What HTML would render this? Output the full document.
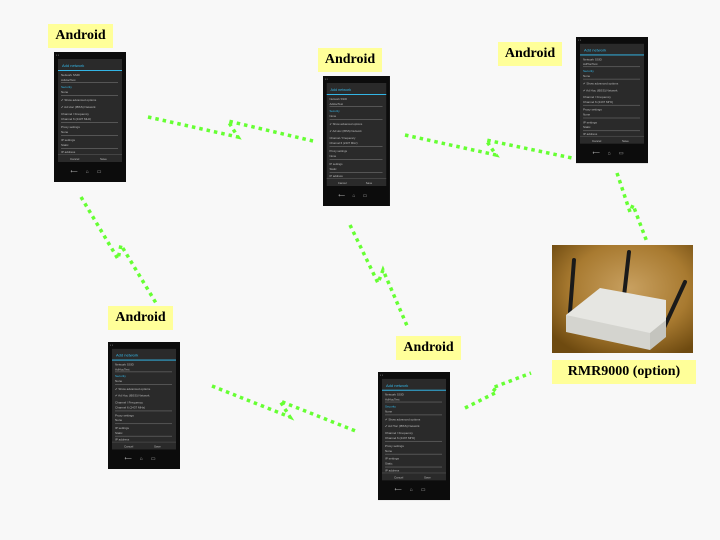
<!DOCTYPE html>
<html><head><meta charset="utf-8"><style>
body{margin:0;width:720px;height:540px;background:#f8f8f8;position:relative;overflow:hidden;font-family:"Liberation Sans",sans-serif}
.lbl{position:absolute;background:#ffff99;font-family:"Liberation Serif",serif;font-weight:bold;font-size:14px;color:#000;text-align:center;line-height:24px;height:24px}
.ph{position:absolute;width:72px;height:130px;background:#0c0c0c;transform-origin:0 0;overflow:hidden}
.ph .sb{position:absolute;left:2px;top:1px;font-size:3px;color:#999}
.ph .dl{position:absolute;left:4px;top:7px;width:64px;height:103px;background:#2a2a2a}
.ph .t{position:absolute;left:4px;top:4px;font-size:4px;color:#33b5e5}
.ph .hl{position:absolute;left:0;top:11px;width:64px;height:1px;background:#33b5e5}
.ph .r{position:absolute;left:3px;font-size:3px;color:#bbb;white-space:nowrap}
.ph .u{position:absolute;left:3px;width:57px;height:1px;background:#555}
.ph .bt{position:absolute;left:0;top:95px;width:64px;height:8px;border-top:1px solid #444;font-size:3px;color:#bbb}
.ph .nv{position:absolute;left:0;top:117px;width:72px;text-align:center;font-size:5px;color:#aaa;letter-spacing:8px}
</style></head><body>
<svg width="720" height="540" style="position:absolute;left:0;top:0">
<g fill="none" stroke="#66ff33" stroke-width="3.5" stroke-dasharray="3.5 4">
<polyline points="148,117 238,137 228,121 313,141"/>
<polyline points="405,135 496,155 486,140 572,158"/>
<polyline points="81,197 118,259 121,245 156,303"/>
<polyline points="350,225 378,283 383,270 408,328"/>
<polyline points="212,386 290,417 280,401 358,432"/>
<polyline points="465,408 497,392 492,388 531,373"/>
<polyline points="617,173 630,212 633,205 647,242"/>
</g>
<defs><radialGradient id="bg" cx="0.55" cy="0.4" r="0.7"><stop offset="0" stop-color="#c8a060"/><stop offset="0.6" stop-color="#a87a30"/><stop offset="1" stop-color="#6e4a10"/></radialGradient></defs>
<rect x="552" y="245" width="141" height="108" fill="url(#bg)"/>
<g stroke="#1a1a1a" stroke-width="4" stroke-linecap="round">
<line x1="574" y1="260" x2="570" y2="312"/><line x1="629" y1="252" x2="624" y2="296"/><line x1="685" y1="282" x2="662" y2="332"/></g>
<polygon points="566,315 600,288 666,300 666,330 650,343 566,325" fill="#e6e6e2"/>
<polygon points="566,315 650,333 650,350 566,332" fill="#d4d4cf"/>
<polygon points="650,333 666,320 666,337 650,350" fill="#c4c4be"/>
</svg>
<div class="lbl" style="left:48px;top:24px;width:65px">Android</div>
<div class="lbl" style="left:318px;top:48px;width:64px">Android</div>
<div class="lbl" style="left:498px;top:42px;width:64px">Android</div>
<div class="lbl" style="left:108px;top:306px;width:65px">Android</div>
<div class="lbl" style="left:396px;top:336px;width:65px">Android</div>
<div class="lbl" style="left:552px;top:360px;width:144px">RMR9000 (option)</div>

<div class="ph" style="left:54px;top:52px"><div class="sb">▪ ▪</div><div class="dl"><div class="t">Add network</div><div class="hl"></div><div class="r" style="top:14px">Network SSID</div><div class="r" style="top:19px">AdHocTest</div><div class="u" style="top:23px"></div><div class="r" style="top:26px;color:#33b5e5">Security</div><div class="r" style="top:31px">None</div><div class="u" style="top:36px"></div><div class="r" style="top:39px">✔ Show advanced options</div><div class="r" style="top:46px">✔ Ad Hoc (IBSS) Network</div><div class="r" style="top:53px">Channel / Frequency</div><div class="r" style="top:58px">Channel 6 (2437 MHz)</div><div class="u" style="top:63px"></div><div class="r" style="top:66px">Proxy settings</div><div class="r" style="top:71px">None</div><div class="u" style="top:76px"></div><div class="r" style="top:79px">IP settings</div><div class="r" style="top:84px">Static</div><div class="u" style="top:89px"></div><div class="r" style="top:91px">IP address</div><div class="bt"><span style="position:absolute;left:12px;top:2px">Cancel</span><span style="position:absolute;left:42px;top:2px">Save</span></div></div><div class="nv">⟵⌂▭</div></div>

<div class="ph" style="left:323px;top:76px;transform:scale(0.93,1)"><div class="sb">▪ ▪</div><div class="dl"><div class="t">Add network</div><div class="hl"></div><div class="r" style="top:14px">Network SSID</div><div class="r" style="top:19px">AdHocTest</div><div class="u" style="top:23px"></div><div class="r" style="top:26px;color:#33b5e5">Security</div><div class="r" style="top:31px">None</div><div class="u" style="top:36px"></div><div class="r" style="top:39px">✔ Show advanced options</div><div class="r" style="top:46px">✔ Ad Hoc (IBSS) Network</div><div class="r" style="top:53px">Channel / Frequency</div><div class="r" style="top:58px">Channel 6 (2437 MHz)</div><div class="u" style="top:63px"></div><div class="r" style="top:66px">Proxy settings</div><div class="r" style="top:71px">None</div><div class="u" style="top:76px"></div><div class="r" style="top:79px">IP settings</div><div class="r" style="top:84px">Static</div><div class="u" style="top:89px"></div><div class="r" style="top:91px">IP address</div><div class="bt"><span style="position:absolute;left:12px;top:2px">Cancel</span><span style="position:absolute;left:42px;top:2px">Save</span></div></div><div class="nv">⟵⌂▭</div></div>

<div class="ph" style="left:576px;top:37px;transform:scale(1,0.97)"><div class="sb">▪ ▪</div><div class="dl"><div class="t">Add network</div><div class="hl"></div><div class="r" style="top:14px">Network SSID</div><div class="r" style="top:19px">AdHocTest</div><div class="u" style="top:23px"></div><div class="r" style="top:26px;color:#33b5e5">Security</div><div class="r" style="top:31px">None</div><div class="u" style="top:36px"></div><div class="r" style="top:39px">✔ Show advanced options</div><div class="r" style="top:46px">✔ Ad Hoc (IBSS) Network</div><div class="r" style="top:53px">Channel / Frequency</div><div class="r" style="top:58px">Channel 6 (2437 MHz)</div><div class="u" style="top:63px"></div><div class="r" style="top:66px">Proxy settings</div><div class="r" style="top:71px">None</div><div class="u" style="top:76px"></div><div class="r" style="top:79px">IP settings</div><div class="r" style="top:84px">Static</div><div class="u" style="top:89px"></div><div class="r" style="top:91px">IP address</div><div class="bt"><span style="position:absolute;left:12px;top:2px">Cancel</span><span style="position:absolute;left:42px;top:2px">Save</span></div></div><div class="nv">⟵⌂▭</div></div>

<div class="ph" style="left:108px;top:342px;transform:scale(1,0.977)"><div class="sb">▪ ▪</div><div class="dl"><div class="t">Add network</div><div class="hl"></div><div class="r" style="top:14px">Network SSID</div><div class="r" style="top:19px">AdHocTest</div><div class="u" style="top:23px"></div><div class="r" style="top:26px;color:#33b5e5">Security</div><div class="r" style="top:31px">None</div><div class="u" style="top:36px"></div><div class="r" style="top:39px">✔ Show advanced options</div><div class="r" style="top:46px">✔ Ad Hoc (IBSS) Network</div><div class="r" style="top:53px">Channel / Frequency</div><div class="r" style="top:58px">Channel 6 (2437 MHz)</div><div class="u" style="top:63px"></div><div class="r" style="top:66px">Proxy settings</div><div class="r" style="top:71px">None</div><div class="u" style="top:76px"></div><div class="r" style="top:79px">IP settings</div><div class="r" style="top:84px">Static</div><div class="u" style="top:89px"></div><div class="r" style="top:91px">IP address</div><div class="bt"><span style="position:absolute;left:12px;top:2px">Cancel</span><span style="position:absolute;left:42px;top:2px">Save</span></div></div><div class="nv">⟵⌂▭</div></div>

<div class="ph" style="left:378px;top:372px;transform:scale(1,0.985)"><div class="sb">▪ ▪</div><div class="dl"><div class="t">Add network</div><div class="hl"></div><div class="r" style="top:14px">Network SSID</div><div class="r" style="top:19px">AdHocTest</div><div class="u" style="top:23px"></div><div class="r" style="top:26px;color:#33b5e5">Security</div><div class="r" style="top:31px">None</div><div class="u" style="top:36px"></div><div class="r" style="top:39px">✔ Show advanced options</div><div class="r" style="top:46px">✔ Ad Hoc (IBSS) Network</div><div class="r" style="top:53px">Channel / Frequency</div><div class="r" style="top:58px">Channel 6 (2437 MHz)</div><div class="u" style="top:63px"></div><div class="r" style="top:66px">Proxy settings</div><div class="r" style="top:71px">None</div><div class="u" style="top:76px"></div><div class="r" style="top:79px">IP settings</div><div class="r" style="top:84px">Static</div><div class="u" style="top:89px"></div><div class="r" style="top:91px">IP address</div><div class="bt"><span style="position:absolute;left:12px;top:2px">Cancel</span><span style="position:absolute;left:42px;top:2px">Save</span></div></div><div class="nv">⟵⌂▭</div></div>
</body></html>
